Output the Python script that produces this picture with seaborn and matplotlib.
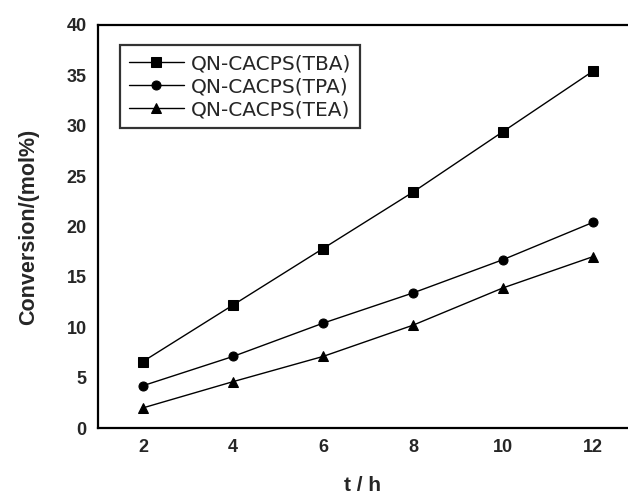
import matplotlib
matplotlib.use("Agg")
import matplotlib.pyplot as plt
import pandas as pd
import numpy as np
import seaborn as sns

# reaction time (h) and conversion (mol%)
time_h = [2, 4, 6, 8, 10, 12]
conv_tba = [6.6, 12.2, 17.8, 23.4, 29.4, 35.4]
conv_tpa = [4.2, 7.1, 10.4, 13.4, 16.7, 20.4]
conv_tea = [2.0, 4.6, 7.1, 10.2, 13.9, 17.0]
series_names = ["QN-CACPS(TBA)", "QN-CACPS(TPA)", "QN-CACPS(TEA)"]
y_ticks = [0, 5, 10, 15, 20, 25, 30, 35, 40]
x_ticks = [2, 4, 6, 8, 10, 12]

df = pd.DataFrame({
    "t": time_h * 3,
    "conv": conv_tba + conv_tpa + conv_tea,
    "catalyst": [n for n in series_names for _ in time_h],
})

sns.set_style("white")
plt.rcParams["font.family"] = ["Liberation Sans", "DejaVu Sans"]

fig = plt.figure(figsize=(6.28, 4.96), dpi=100)
ax = fig.add_axes([0.156, 0.137, 0.844, 0.813])

sns.lineplot(data=df, x="t", y="conv", hue="catalyst", style="catalyst",
             palette=["black"] * 3, markers=["s", "o", "^"], dashes=False,
             markersize=6.5, linewidth=1.0, markeredgecolor="black", ax=ax)

ax.set_xlim(1, 12.78)
ax.set_ylim(0, 40)
ax.set_xticks(x_ticks)
ax.set_yticks(y_ticks)
for lab in ax.get_xticklabels() + ax.get_yticklabels():
    lab.set_fontweight("heavy")
    lab.set_fontsize(13)
ax.tick_params(axis="both", direction="in", length=5, width=1.2, color="black", pad=8)
ax.spines["right"].set_visible(False)
for s in ["left", "bottom", "top"]:
    ax.spines[s].set_linewidth(1.6)
    ax.spines[s].set_color("black")

ax.set_xlabel("t / h", fontsize=15, fontweight="bold", labelpad=14)
ax.set_ylabel("Conversion/(mol%)", fontsize=15.5, fontweight="bold", labelpad=20)

leg = ax.legend(loc="upper left", bbox_to_anchor=(0.042, 0.95),
                prop={"family": "DejaVu Sans", "size": 14.5},
                frameon=True, fancybox=False, edgecolor="black", handlelength=2.7,
                borderpad=0.45, labelspacing=0.2, handletextpad=0.35,
                borderaxespad=0)
leg.get_frame().set_linewidth(1.6)

plt.savefig("out.png", dpi=100)
